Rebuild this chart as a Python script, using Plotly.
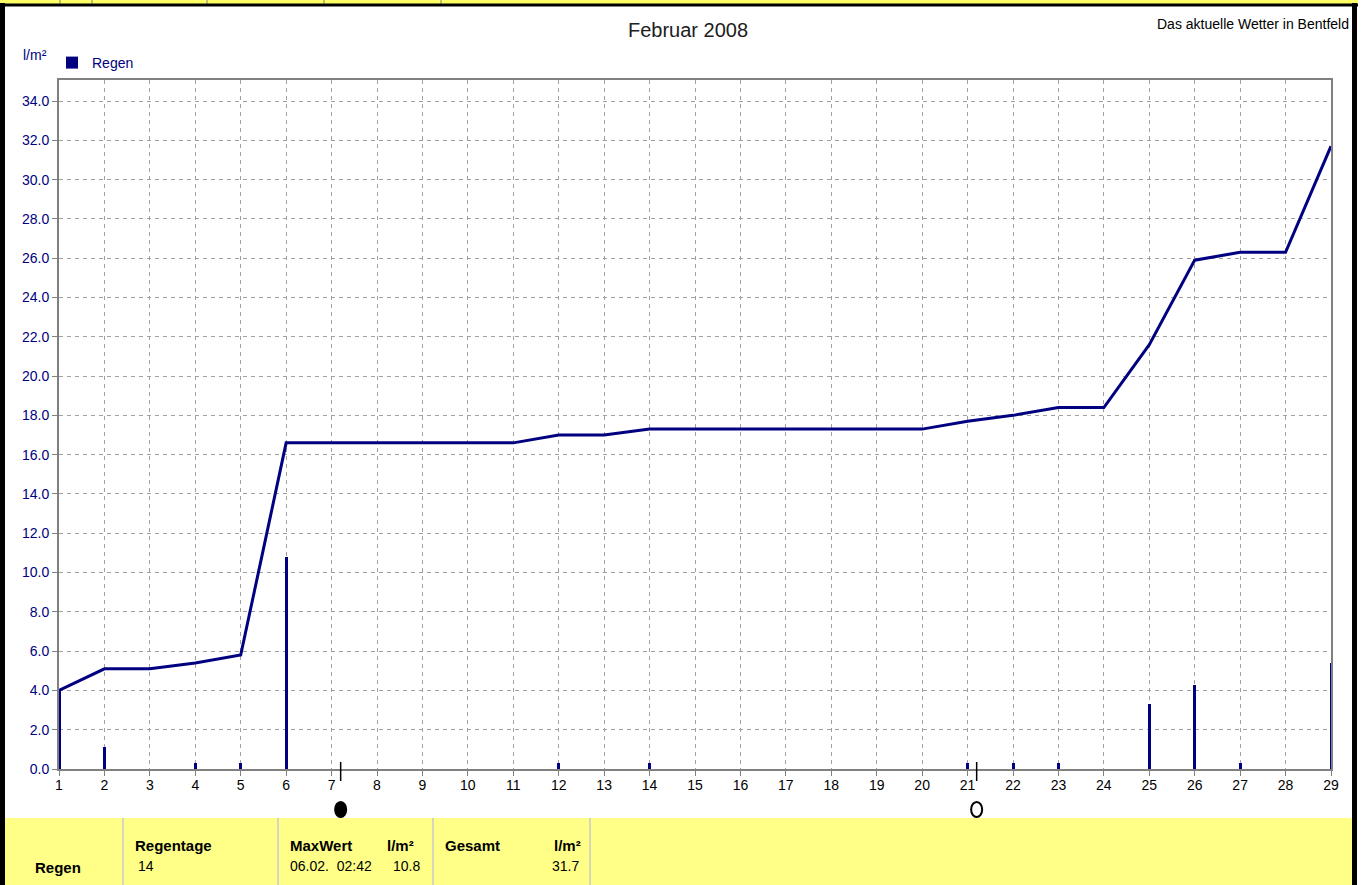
import plotly.graph_objects as go

# ---------------- data ----------------
days = list(range(1, 30))
cumulative_rain = [4.0, 5.1, 5.1, 5.4, 5.8, 16.6, 16.6, 16.6, 16.6, 16.6, 16.6, 17.0, 17.0, 17.3,
                   17.3, 17.3, 17.3, 17.3, 17.3, 17.3, 17.7, 18.0, 18.4, 18.4, 21.6, 25.9, 26.3,
                   26.3, 31.7]
rain_days = [1, 2, 4, 5, 6, 12, 14, 21, 22, 23, 25, 26, 27, 29]
rain_values = [4.0, 1.1, 0.3, 0.3, 10.8, 0.3, 0.3, 0.3, 0.3, 0.3, 3.3, 4.3, 0.3, 5.4]
moon_days = [7.2, 21.2]
moon_filled = [True, False]   # new moon, full moon
y_ticks = [i * 2.0 for i in range(18)]
y_tick_labels = [f"{v:.1f}" for v in y_ticks]

table_headers = ["Regentage", "MaxWert", "l/m²", "Gesamt", "l/m²"]
table_row = ["14", "06.02.  02:42", "10.8", "31.7"]

W, H = 1368, 885
L, R, T, B = 59, 1331, 80, 769
NAVY = "#000080"
YELLOW = "#FFFF88"
FONT = "Liberation Sans, Arial, sans-serif"
PX_PER_DAY = (R - L) / 28


def px(x):
    return (x - L) / (R - L)


def py(y):
    return (B - y) / (B - T)


fig = go.Figure()

fig.add_trace(go.Bar(
    x=rain_days, y=rain_values, width=3 / PX_PER_DAY, marker=dict(color=NAVY, line=dict(width=0)),
    name="Regen", showlegend=True))

fig.add_trace(go.Scatter(
    x=days, y=cumulative_rain, mode="lines", line=dict(color=NAVY, width=3),
    showlegend=False, hoverinfo="x+y"))

shapes = []
# moon phase markers below the axis
for d, filled in zip(moon_days, moon_filled):
    shapes.append(dict(type="line", xref="x", yref="paper", x0=d, x1=d, y0=py(762), y1=py(781),
                       line=dict(color="black", width=1.5)))
    hw = 5.5 / PX_PER_DAY
    shapes.append(dict(type="circle", xref="x", yref="paper", x0=d - hw, x1=d + hw,
                       y0=py(817), y1=py(802),
                       fillcolor="black" if filled else "rgba(0,0,0,0)",
                       line=dict(color="black", width=2)))

# top strip
shapes.append(dict(type="rect", xref="paper", yref="paper", x0=px(0), x1=px(1358), y0=py(0), y1=py(4),
                   fillcolor="#FFFF66", line=dict(width=0), layer="below"))
for sx in [60, 92, 207, 324, 441]:
    shapes.append(dict(type="line", xref="paper", yref="paper", x0=px(sx), x1=px(sx), y0=py(0), y1=py(4),
                       line=dict(color="#808080", width=1)))
shapes.append(dict(type="line", xref="paper", yref="paper", x0=px(0), x1=px(1358), y0=py(5), y1=py(5),
                   line=dict(color="black", width=3)))
# bottom table area
shapes.append(dict(type="rect", xref="paper", yref="paper", x0=px(5), x1=px(1352), y0=py(818), y1=py(886),
                   fillcolor=YELLOW, line=dict(width=0), layer="below"))
for sx in [123, 278, 433, 590]:
    shapes.append(dict(type="line", xref="paper", yref="paper", x0=px(sx), x1=px(sx), y0=py(818), y1=py(886),
                       line=dict(color="#C8C8C8", width=1.5)))
# side borders
shapes.append(dict(type="line", xref="paper", yref="paper", x0=px(2.5), x1=px(2.5), y0=py(3), y1=py(886),
                   line=dict(color="black", width=5)))
shapes.append(dict(type="line", xref="paper", yref="paper", x0=px(1354.5), x1=px(1354.5), y0=py(3), y1=py(886),
                   line=dict(color="black", width=5)))

annotations = []
annotations.append(dict(text="Februar 2008", xref="paper", yref="paper", x=px(688), y=py(30),
                        showarrow=False, xanchor="center", yanchor="middle",
                        font=dict(family=FONT, size=20, color="#202020")))
annotations.append(dict(text="Das aktuelle Wetter in Bentfeld", xref="paper", yref="paper", x=px(1351), y=py(24),
                        showarrow=False, xanchor="right", yanchor="middle",
                        font=dict(family=FONT, size=14, color="black")))
annotations.append(dict(text="l/m²", xref="paper", yref="paper", x=px(21), y=py(55),
                        showarrow=False, xanchor="left", yanchor="middle",
                        font=dict(family=FONT, size=14, color=NAVY)))
# table text
hdr_pos = [(133, "left"), (288, "left"), (416, "right"), (443, "left"), (583, "right")]
for txt, (hx, anc) in zip(table_headers, hdr_pos):
    annotations.append(dict(text=f"<b>{txt}</b>", xref="paper", yref="paper", x=px(hx), y=py(845),
                            showarrow=False, xanchor=anc, yanchor="middle",
                            font=dict(family=FONT, size=15, color="black")))
annotations.append(dict(text="<b>Regen</b>", xref="paper", yref="paper", x=px(33), y=py(867),
                        showarrow=False, xanchor="left", yanchor="middle",
                        font=dict(family=FONT, size=15, color="black")))
row_pos = [(136, "left"), (288, "left"), (422, "right"), (581, "right")]
for txt, (hx, anc) in zip(table_row, row_pos):
    annotations.append(dict(text=txt, xref="paper", yref="paper", x=px(hx), y=py(866),
                            showarrow=False, xanchor=anc, yanchor="middle",
                            font=dict(family=FONT, size=14, color="black")))

axis_common = dict(showline=True, linecolor="#808080", linewidth=2, mirror=True,
                   showgrid=True, gridcolor="#A0A0A0", gridwidth=1, griddash="4px,4px",
                   ticks="outside", ticklen=5, tickcolor="#808080", tickwidth=1, zeroline=False)

fig.update_layout(
    width=W, height=H,
    margin=dict(l=L, r=W - R, t=T, b=H - B, pad=0),
    paper_bgcolor="white", plot_bgcolor="white",
    bargap=0,
    showlegend=True,
    legend=dict(x=px(52), y=py(63), xanchor="left", yanchor="middle", bgcolor="rgba(0,0,0,0)",
                font=dict(family=FONT, size=14, color=NAVY), itemwidth=30),
    xaxis=dict(range=[1, 29], tickmode="array", tickvals=days, ticktext=[str(d) for d in days],
               ticklabelstandoff=-3,
               tickfont=dict(family=FONT, size=14, color="black"), **axis_common),
    yaxis=dict(range=[0, 35.07], tickmode="array", tickvals=y_ticks, ticktext=y_tick_labels,
               tickfont=dict(family=FONT, size=14, color=NAVY), **axis_common),
    shapes=shapes, annotations=annotations,
)

fig.write_html("out.html", config={"displayModeBar": False},
               post_script="document.body.style.margin='0';document.body.style.overflow='hidden';")
